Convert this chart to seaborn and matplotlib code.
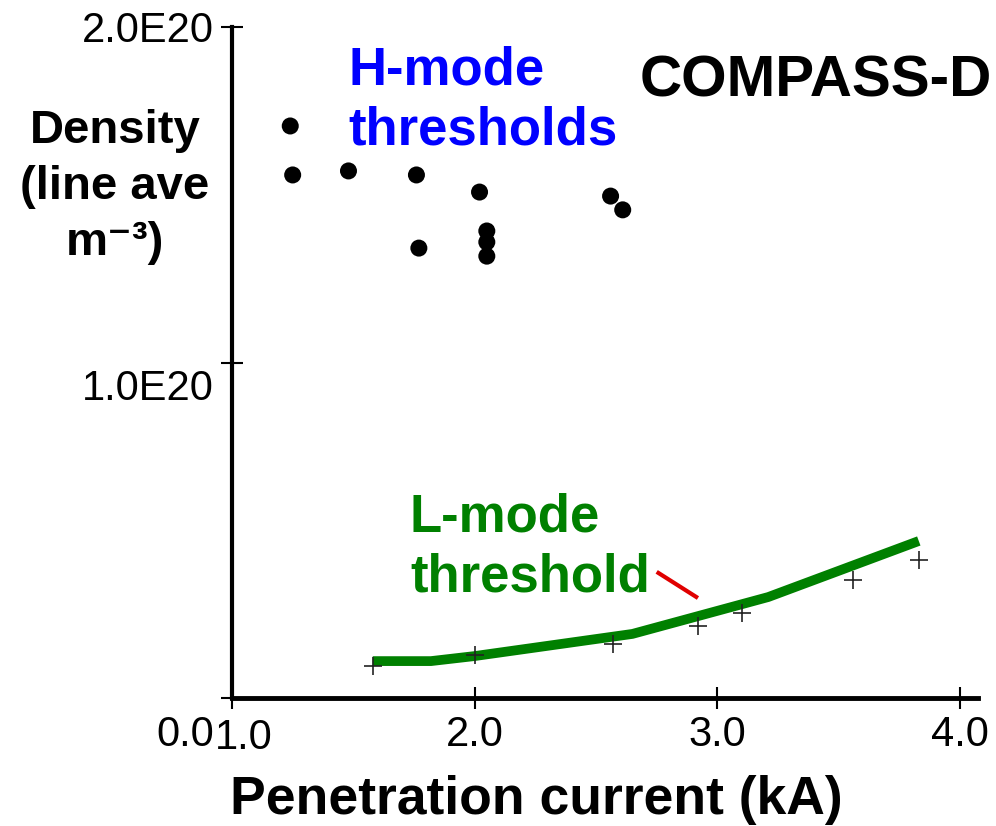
import matplotlib
matplotlib.use("Agg")
import matplotlib.pyplot as plt
from matplotlib.transforms import ScaledTranslation
import pandas as pd
import seaborn as sns

# H-mode threshold shots: penetration current (kA) vs line-averaged density (m^-3)
hmode_current = [1.24, 1.25, 1.48, 1.76, 2.02, 1.77, 2.05, 2.05, 2.05, 2.56, 2.61]
hmode_density = [1.705e20, 1.559e20, 1.571e20, 1.559e20, 1.508e20, 1.341e20,
                 1.392e20, 1.359e20, 1.317e20, 1.496e20, 1.455e20]

# L-mode threshold measurements
lmode_current = [1.58, 2.00, 2.57, 2.92, 3.10, 3.56, 3.83]
lmode_density = [0.095e20, 0.128e20, 0.161e20, 0.215e20, 0.253e20, 0.352e20, 0.411e20]

# smooth L-mode threshold curve
fit_current = [1.58, 1.82, 2.00, 2.65, 3.21, 3.83]
fit_density = [0.110e20, 0.110e20, 0.125e20, 0.191e20, 0.301e20, 0.468e20]

# pointer from the L-mode label to the curve
pointer_current = [2.75, 2.92]
pointer_density = [0.376e20, 0.298e20]

x_ticks = [1.0, 2.0, 3.0, 4.0]
x_tick_labels = ["1.0", "2.0", "3.0", "4.0"]
y_ticks = [0.0, 1.0e20, 2.0e20]
y_tick_labels = ["0.0", "1.0E20", "2.0E20"]

hmode = pd.DataFrame({"current": hmode_current, "density": hmode_density})
lmode = pd.DataFrame({"current": lmode_current, "density": lmode_density})
fit = pd.DataFrame({"current": fit_current, "density": fit_density})
pointer = pd.DataFrame({"current": pointer_current, "density": pointer_density})

sns.set_theme(style="white")
plt.rcParams["font.family"] = ["Liberation Sans", "DejaVu Sans"]
plt.rcParams["text.color"] = "black"
plt.rcParams["axes.labelcolor"] = "black"

W, H = 996, 826
fig = plt.figure(figsize=(W / 100, H / 100), dpi=100)
ax = fig.add_axes([232 / W, 128 / H, (978 - 232) / W, (698 - 27) / H])

sns.lineplot(data=fit, x="current", y="density", ax=ax, color="#008000",
             linewidth=7, solid_capstyle="butt", solid_joinstyle="round")
sns.scatterplot(data=lmode, x="current", y="density", ax=ax, marker="+",
                color="#222222", s=170, linewidth=1.2, zorder=4)
sns.scatterplot(data=hmode, x="current", y="density", ax=ax, color="black",
                s=150, edgecolor="none", zorder=4)
sns.lineplot(data=pointer, x="current", y="density", ax=ax, color="#e00000",
             linewidth=3, sort=False, solid_capstyle="butt")

ax.set_xlim(1.0, 4.074)
ax.set_ylim(0, 2.0e20)

for side in ("top", "right"):
    ax.spines[side].set_visible(False)
ax.spines["left"].set_linewidth(3)
ax.spines["bottom"].set_linewidth(3.5)
for side in ("left", "bottom"):
    ax.spines[side].set_color("black")

ax.set_xticks(x_ticks)
ax.set_xticklabels(x_tick_labels)
ax.set_yticks(y_ticks)
ax.set_yticklabels(y_tick_labels)
ax.tick_params(axis="both", direction="inout", length=16, width=1.5,
               colors="black", labelcolor="black", labelsize=30,
               bottom=True, left=True)
ax.tick_params(axis="x", pad=4)
ax.tick_params(axis="y", pad=5)

# y tick labels sit progressively lower toward the origin
for lab, dy in zip(ax.get_yticklabels(), [-32, -22, 0]):
    lab.set_transform(lab.get_transform() +
                      ScaledTranslation(0, dy / 100, fig.dpi_scale_trans))
# first x label nudged right, clear of the "0.0"
first_x = ax.get_xticklabels()[0]
first_x.set_transform(first_x.get_transform() +
                      ScaledTranslation(0.12, -0.03, fig.dpi_scale_trans))

ax.set_xlabel("Penetration current (kA)", fontsize=38.5, fontweight="bold",
              ha="center", va="center")
ax.xaxis.set_label_coords(0.4075, -0.152)
ax.set_ylabel("Density\n(line ave\nm\u207b\u00b3)", fontsize=34,
              fontweight="bold", rotation=0, ha="center", va="center",
              multialignment="center", linespacing=1.36)
ax.yaxis.set_label_coords(-0.157, 0.7616)

ax.text(1.478, 1.946e20, "H-mode\nthresholds", color="#0000ff", fontsize=38,
        fontweight="bold", ha="left", va="top", linespacing=1.27)
ax.text(2.681, 1.917e20, "COMPASS-D", color="black", fontsize=42,
        fontweight="bold", ha="left", va="top", clip_on=False)
ax.text(1.733, 0.614e20, "L-mode\nthreshold", color="#008000", fontsize=38,
        fontweight="bold", ha="left", va="top", linespacing=1.27)

fig.savefig("out.png", dpi=100)
